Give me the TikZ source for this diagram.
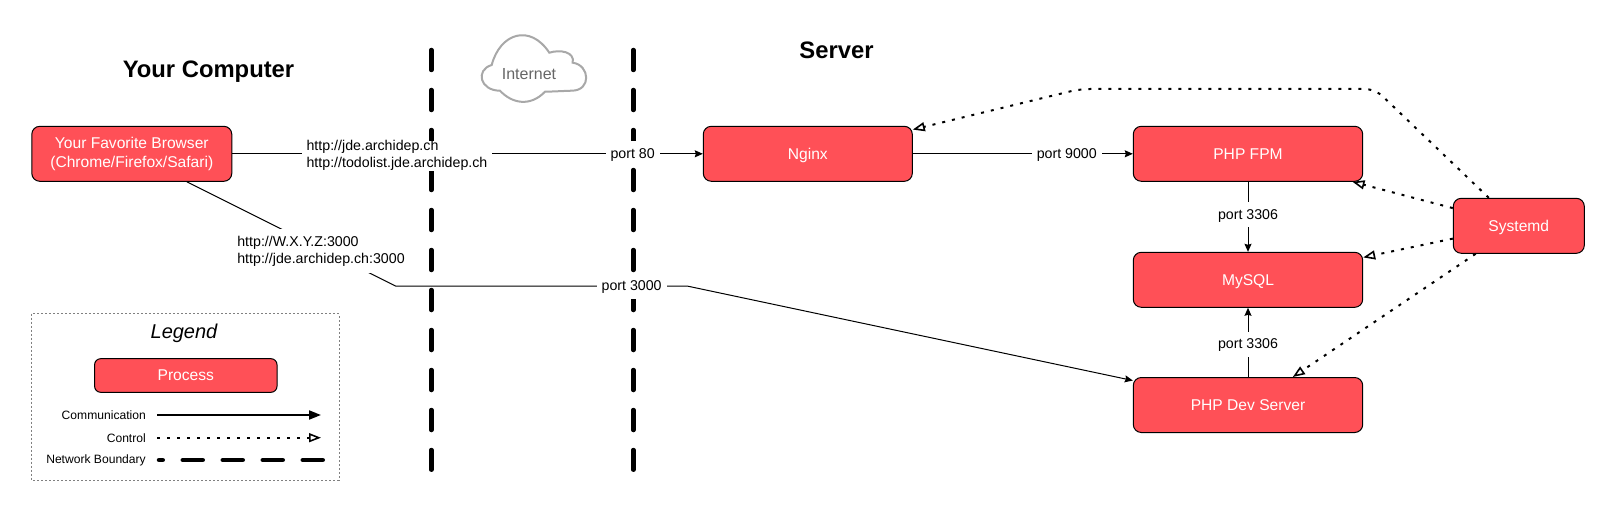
\documentclass[tikz,border=0pt]{standalone}
\usepackage{fontspec}
\setmainfont{Liberation Sans}
\usetikzlibrary{arrows.meta,positioning}

\begin{document}
\begin{tikzpicture}[x=1pt,y=-1pt]
\definecolor{procred}{HTML}{FF5057}
\definecolor{cloudgray}{HTML}{A8A8A8}
\definecolor{cloudtext}{HTML}{666666}
\tikzset{
  procnode/.style={rectangle,draw,fill=procred,rounded corners=8pt,line width=1pt,text=white,inner sep=0pt,align=center,font=\fontsize{15.6}{19}\selectfont},
  oneline/.style={text height=12.8pt,text depth=2.4pt},
  portlabel/.style={fill=white,inner xsep=5pt,inner ysep=0pt,minimum height=25pt,text height=11.6pt,text depth=3pt,font=\fontsize{14.2}{17}\selectfont},
  urllabel/.style={fill=white,inner xsep=5pt,inner ysep=0pt,align=left,font=\fontsize{14.2}{17}\selectfont},
  legendlabel/.style={anchor=east,inner sep=0pt,font=\fontsize{12.1}{15}\selectfont},
  titlelabel/.style={inner sep=0pt,font=\fontsize{23.8}{28}\selectfont\bfseries},
  commline/.style={-{Stealth[length=8pt,width=7pt,inset=1pt]},line width=1pt},
  ctrlline/.style={-{Triangle[open,fill=white,length=12pt,width=9pt,line width=1.6pt]},line width=2pt,dash pattern=on 3pt off 7pt},
  boundary/.style={line width=4.5pt,line cap=round,dash pattern=on 20pt off 20pt}
}
\useasboundingbox (0,0) rectangle (1615,511);
\coordinate (b_l0) at (431.3,50);
\coordinate (b_l1) at (431.3,469.7);
\coordinate (b_r0) at (633.3,50);
\coordinate (b_r1) at (633.3,469.7);
\draw[boundary] (b_l0) -- (b_l1);
\draw[boundary] (b_r0) -- (b_r1);
\node[titlelabel] (n_computer) at (208.5,72) {Your Computer};
\node[titlelabel] (n_server) at (836.5,50.5) {Server};
\draw[cloudgray,line width=2pt,fill=white] (500,90.7) .. controls (480,90.7) and (475,70) .. (491.7,65)
  .. controls (500,33.3) and (530,23.3) .. (549.3,52.7)
  .. controls (560,49.3) and (575,51.7) .. (572.7,62.7)
  .. controls (590,65) and (591.7,90.7) .. (571.7,90.7)
  .. controls (562,91) and (555,91.5) .. (545,91.7)
  .. controls (530,107.3) and (511.7,103.3) .. (500,90.7) -- cycle;
\node[inner sep=0pt,text=cloudtext,font=\fontsize{16}{19}\selectfont] (n_internet) at (529,74) {Internet};
\node[procnode,minimum width=200pt,minimum height=55pt] (n_browser) at (131.8,153.8) {Your Favorite Browser\\(Chrome/Firefox/Safari)};
\node[procnode,oneline,minimum width=209pt,minimum height=55pt] (n_nginx) at (807.8,153.8) {Nginx};
\node[procnode,oneline,minimum width=229.4pt,minimum height=55pt] (n_fpm) at (1248,153.8) {PHP FPM};
\node[procnode,oneline,minimum width=229.4pt,minimum height=55pt] (n_mysql) at (1248,279.8) {MySQL};
\node[procnode,oneline,minimum width=229.4pt,minimum height=55pt] (n_dev) at (1248,405) {PHP Dev Server};
\node[procnode,oneline,minimum width=131pt,minimum height=55pt] (n_systemd) at (1518.8,225.8) {Systemd};
\coordinate (c_low0) at (395.5,286);
\coordinate (c_low1) at (687,286);
\coordinate (c_top0) at (1375,89);
\coordinate (c_top1) at (1080,89);
\draw[commline] (n_browser) -- (n_nginx)
  node[urllabel,pos=.35,yshift=-2pt] (n_urls) {http://jde.archidep.ch\\http://todolist.jde.archidep.ch}
  node[portlabel,pos=.851] (n_port80) {port 80};
\draw[commline] (n_nginx) -- (n_fpm) node[portlabel,pos=.70] (n_port9000) {port 9000};
\draw[commline] (n_fpm) -- (n_mysql) node[portlabel,pos=.47] (n_port3306a) {port 3306};
\draw[commline] (n_dev) -- (n_mysql) node[portlabel,pos=.475] (n_port3306b) {port 3306};
\draw[commline] (n_browser.333.4) -- (c_low0) -- (c_low1)
  node[portlabel,pos=.81] (n_port3000) {port 3000} -- (n_dev.168.2);
\node[urllabel,minimum height=44pt] (n_devurls) at (321,251) {http://W.X.Y.Z:3000\\http://jde.archidep.ch:3000};
\draw[ctrlline,rounded corners=10pt] (n_systemd.137.3) -- (c_top0) -- (c_top1) -- (n_nginx.13.2);
\draw[ctrlline] (n_systemd.165) -- (n_fpm.345.3);
\draw[ctrlline] (n_systemd.191.4) -- (n_mysql.11.2);
\draw[ctrlline] (n_systemd.213.3) -- (n_dev.32.6);
\draw[gray,line width=1pt,dash pattern=on 2pt off 2pt] (31.7,313.7) rectangle (339,480);
\node[inner sep=0pt,font=\fontsize{20}{24}\selectfont\itshape] (n_legend) at (184,333) {Legend};
\node[procnode,oneline,rounded corners=6pt,minimum width=182.4pt,minimum height=33.6pt] (n_process) at (185.8,375.5) {Process};
\node[legendlabel] (n_lcomm) at (146,415) {Communication};
\node[legendlabel] (n_lctrl) at (146,437.7) {Control};
\node[legendlabel] (n_lnet) at (146,460) {Network Boundary};
\coordinate (c_comm0) at (157,415);
\coordinate (c_comm1) at (321,415);
\coordinate (c_ctrl0) at (157,437.7);
\coordinate (c_ctrl1) at (321,437.7);
\coordinate (c_net0) at (322.75,460);
\coordinate (c_net1) at (159,460);
\draw[-{Stealth[length=12pt,width=9pt,inset=0pt]},line width=2pt] (c_comm0) -- (c_comm1);
\draw[ctrlline] (c_ctrl0) -- (c_ctrl1);
\draw[boundary] (c_net0) -- (c_net1);
\end{tikzpicture}
\end{document}
